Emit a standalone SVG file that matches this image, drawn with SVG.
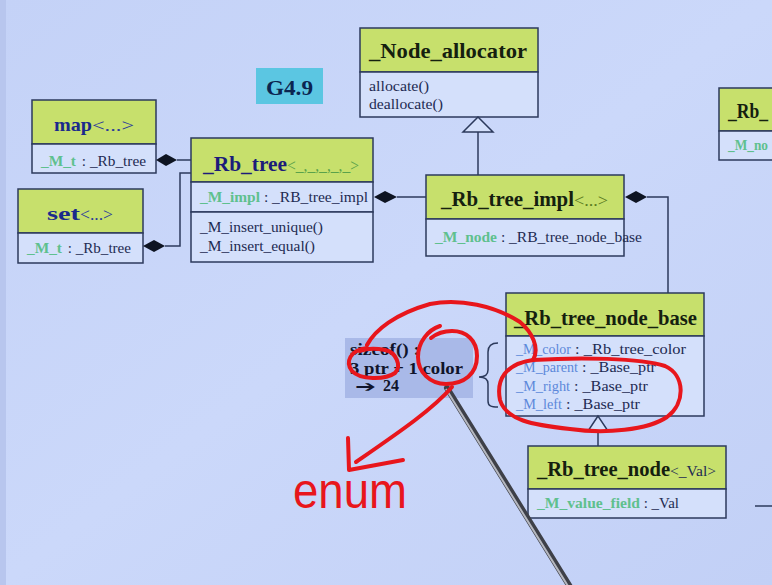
<svg xmlns="http://www.w3.org/2000/svg" width="772" height="585" viewBox="0 0 772 585">
<defs>
<linearGradient id="bg" x1="0" y1="0" x2="1" y2="1">
<stop offset="0" stop-color="#c4d2f7"/>
<stop offset="0.5" stop-color="#cbd8fa"/>
<stop offset="1" stop-color="#c2d0f6"/>
</linearGradient>
<style>
.hdr{fill:#c7e06c;stroke:#2c3a5c;stroke-width:1.5}
.body{fill:#d4e0fb;stroke:#2c3a5c;stroke-width:1.5}
.t{font-family:"Liberation Serif",serif;font-weight:bold;font-size:21px;fill:#15200f}
.a{font-family:"Liberation Serif",serif;font-size:15px;fill:#1e2b52}
.g{fill:#5fc08e;font-weight:bold}
.b{fill:#5c88da}
.ln{fill:none;stroke:#2c3a5c;stroke-width:1.5}
.dia{fill:#0e1422}
.red{fill:none;stroke:#e8161c;stroke-width:4;stroke-linecap:round;stroke-linejoin:round}
</style>
</defs>
<rect width="772" height="585" fill="url(#bg)"/>
<rect x="0" y="0" width="6" height="585" fill="#b8c6ee"/>

<g id="g49">
<rect x="256" y="68" width="67" height="36" fill="#5bc6e2"/>
<text x="266" y="95" class="t" style="fill:#0b2550;font-size:20px" textLength="47" lengthAdjust="spacingAndGlyphs">G4.9</text>
</g>

<g id="node_allocator">
<rect x="360" y="28" width="178" height="44" class="hdr"/>
<rect x="360" y="72" width="178" height="45" class="body"/>
<text x="369" y="58" class="t" textLength="158" lengthAdjust="spacingAndGlyphs">_Node_allocator</text>
<text x="369" y="91" class="a" textLength="60" lengthAdjust="spacingAndGlyphs">allocate()</text>
<text x="369" y="109" class="a" textLength="74" lengthAdjust="spacingAndGlyphs">deallocate()</text>
</g>

<g id="map">
<rect x="32" y="100" width="124" height="44" class="hdr"/>
<rect x="32" y="144" width="124" height="29" class="body"/>
<text x="54" y="131" class="t" style="fill:#1b2a8c;font-size:19px" textLength="38" lengthAdjust="spacingAndGlyphs">map</text>
<text x="92" y="131" class="a" style="fill:#2a3a9a;font-size:17px" textLength="42" lengthAdjust="spacingAndGlyphs">&lt;...&gt;</text>
<text x="41" y="166" class="a" style="font-size:14px"><tspan class="g" textLength="35" lengthAdjust="spacingAndGlyphs">_M_t</tspan><tspan x="78" textLength="68" lengthAdjust="spacingAndGlyphs"> : _Rb_tree</tspan></text>
</g>

<g id="set">
<rect x="18" y="189" width="125" height="44" class="hdr"/>
<rect x="18" y="233" width="125" height="30" class="body"/>
<text x="47" y="220" class="t" style="fill:#1b2a8c;font-size:19px" textLength="33" lengthAdjust="spacingAndGlyphs">set</text>
<text x="80" y="220" class="a" style="fill:#2a3a9a;font-size:17px" textLength="33" lengthAdjust="spacingAndGlyphs">&lt;...&gt;</text>
<text x="27" y="253" class="a" style="font-size:14px"><tspan class="g" textLength="35" lengthAdjust="spacingAndGlyphs">_M_t</tspan><tspan x="64" textLength="67" lengthAdjust="spacingAndGlyphs"> : _Rb_tree</tspan></text>
</g>

<g id="rb_tree">
<rect x="191" y="138" width="182" height="44" class="hdr"/>
<rect x="191" y="182" width="182" height="30" class="body"/>
<rect x="191" y="212" width="182" height="50" class="body"/>
<text x="203" y="171" class="t" style="fill:#1c1c7a" textLength="84" lengthAdjust="spacingAndGlyphs">_Rb_tree</text>
<text x="287" y="171" class="a" style="fill:#5aa24a;font-size:16px" textLength="72" lengthAdjust="spacingAndGlyphs">&lt;_,_,_,_,_&gt;</text>
<text x="200" y="202" class="a"><tspan class="g" textLength="60" lengthAdjust="spacingAndGlyphs">_M_impl</tspan><tspan x="260" textLength="108" lengthAdjust="spacingAndGlyphs"> : _RB_tree_impl</tspan></text>
<text x="200" y="232" class="a" textLength="123" lengthAdjust="spacingAndGlyphs">_M_insert_unique()</text>
<text x="200" y="251" class="a" textLength="115" lengthAdjust="spacingAndGlyphs">_M_insert_equal()</text>
</g>

<g id="rb_tree_impl">
<rect x="426" y="175" width="198" height="44" class="hdr"/>
<rect x="426" y="219" width="198" height="37" class="body"/>
<text x="441" y="206" class="t" textLength="133" lengthAdjust="spacingAndGlyphs">_Rb_tree_impl</text>
<text x="574" y="206" class="a" style="fill:#5a7a20;font-size:16px" textLength="34" lengthAdjust="spacingAndGlyphs">&lt;...&gt;</text>
<text x="435" y="242" class="a"><tspan class="g" textLength="62" lengthAdjust="spacingAndGlyphs">_M_node</tspan><tspan x="497" textLength="145" lengthAdjust="spacingAndGlyphs"> : _RB_tree_node_base</tspan></text>
</g>

<g id="rb_tree_node_base">
<rect x="506" y="293" width="198" height="43" class="hdr"/>
<rect x="506" y="336" width="198" height="80" class="body"/>
<text x="514" y="325" class="t" textLength="183" lengthAdjust="spacingAndGlyphs">_Rb_tree_node_base</text>
<text x="516" y="354" class="a"><tspan class="b" textLength="55" lengthAdjust="spacingAndGlyphs">_M_color</tspan><tspan textLength="115" lengthAdjust="spacingAndGlyphs"> : _Rb_tree_color</tspan></text>
<text x="516" y="372" class="a"><tspan class="b" textLength="62" lengthAdjust="spacingAndGlyphs">_M_parent</tspan><tspan textLength="78" lengthAdjust="spacingAndGlyphs"> : _Base_ptr</tspan></text>
<text x="516" y="391" class="a"><tspan class="b" textLength="54" lengthAdjust="spacingAndGlyphs">_M_right</tspan><tspan textLength="78" lengthAdjust="spacingAndGlyphs"> : _Base_ptr</tspan></text>
<text x="516" y="409" class="a"><tspan class="b" textLength="46" lengthAdjust="spacingAndGlyphs">_M_left</tspan><tspan textLength="78" lengthAdjust="spacingAndGlyphs"> : _Base_ptr</tspan></text>
</g>

<g id="rb_tree_node">
<rect x="528" y="446" width="198" height="43" class="hdr"/>
<rect x="528" y="489" width="198" height="29" class="body"/>
<text x="537" y="476" class="t" textLength="133" lengthAdjust="spacingAndGlyphs">_Rb_tree_node</text>
<text x="670" y="476" class="a" style="font-size:15px" textLength="46" lengthAdjust="spacingAndGlyphs">&lt;_Val&gt;</text>
<text x="537" y="508" class="a"><tspan class="g" textLength="103" lengthAdjust="spacingAndGlyphs">_M_value_field</tspan><tspan x="640" textLength="39" lengthAdjust="spacingAndGlyphs"> : _Val</tspan></text>
</g>

<g id="rb_partial">
<rect x="719" y="88" width="60" height="43" class="hdr"/>
<rect x="719" y="131" width="60" height="29" class="body"/>
<text x="728" y="118" class="t" textLength="40" lengthAdjust="spacingAndGlyphs">_Rb_</text>
<text x="728" y="150" class="a" style="font-size:14px" textLength="40" lengthAdjust="spacingAndGlyphs"><tspan class="g">_M_no</tspan></text>
</g>

<g id="sizeof_note">
<rect x="345" y="338" width="128" height="60" fill="#a9b9e8"/>
<text x="350" y="355" class="t" style="font-size:16px;fill:#10142a" textLength="70" lengthAdjust="spacingAndGlyphs">sizeof() :</text>
<text x="350" y="374" class="t" style="font-size:16px;fill:#10142a" textLength="113" lengthAdjust="spacingAndGlyphs">3 ptr + 1 color</text>
<text x="355" y="392" class="t" style="font-size:16px;fill:#10142a;font-family:'DejaVu Sans','Liberation Serif',sans-serif" textLength="21" lengthAdjust="spacingAndGlyphs">➔</text>
<text x="383" y="391" class="t" style="font-size:16px;fill:#10142a">24</text>
<path d="M498,343 C491,343 488,346 488,352 L488,370 C488,375 485,377 479,377 C485,377 488,379 488,384 L488,401 C488,406 491,407 498,407" class="ln"/>
</g>

<g id="connectors">
<path d="M478,175 L478,132" class="ln"/>
<polygon points="478,117 463,132 493,132" fill="#d4e0fb" stroke="#2c3a5c" stroke-width="1.5"/>
<path d="M177,160 L191,160" class="ln"/>
<polygon points="156,160 166,154 177,160 166,166" class="dia"/>
<path d="M165,246 L180,246 L180,173 L191,173" class="ln"/>
<polygon points="143,246 154,240 165,246 154,252" class="dia"/>
<path d="M397,197 L426,197" class="ln"/>
<polygon points="374,197 385,191 397,197 385,203" class="dia"/>
<path d="M647,197 L668,197 L668,293" class="ln"/>
<polygon points="625,197 636,191 647,197 636,203" class="dia"/>
<path d="M598,446 L598,431" class="ln"/>
<polygon points="598,416 588,431 608,431" fill="#d4e0fb" stroke="#2c3a5c" stroke-width="1.5"/>
<path d="M755,506 L772,506" class="ln"/>
</g>

<g id="pointer">
<line x1="447" y1="388" x2="572" y2="590" stroke="#3e4048" stroke-width="6" stroke-linecap="round"/>
<line x1="446" y1="389" x2="571" y2="591" stroke="#b6b8c0" stroke-width="2"/>
</g>

<g id="annotations">
<path class="red" d="M367,345 C375,330 395,314 430,304 C460,298 495,306 520,322 C532,332 540,348 533,360"/>
<path class="red" d="M367,348 C350,350 345,362 352,371 C360,380 385,380 395,373 C402,366 396,352 385,350 C375,348 365,349 360,351"/>
<path class="red" d="M533,360 C580,357 640,358 665,366 C685,375 686,403 667,417 C648,430 605,434 570,429 C532,425 506,420 500,400 C496,380 505,364 533,360"/>
<path class="red" d="M440,326 C428,330 418,342 418,357 C418,372 430,384 446,384 C464,384 477,374 477,356 C477,340 466,331 452,331 C444,331 436,334 431,338"/>
<path class="red" d="M452,387 C432,410 398,433 356,462"/>
<path class="red" d="M348,438 L349,470 L403,460"/>
<text x="293" y="508" font-family="'Liberation Sans',sans-serif" font-size="50" fill="#e8161c" textLength="114" lengthAdjust="spacingAndGlyphs">enum</text>
</g>
</svg>
